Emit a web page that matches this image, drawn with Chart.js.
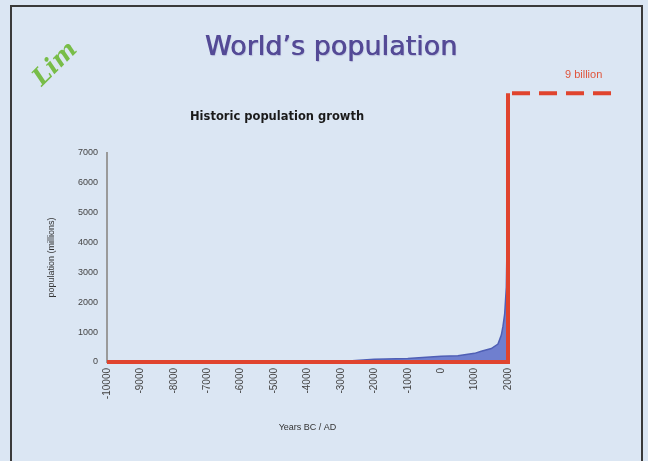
<!DOCTYPE html>
<html>
<head>
<meta charset="utf-8">
<script src="https://cdn.jsdelivr.net/npm/chart.js@4"></script>
<style>
  html, body { margin: 0; padding: 0; background: #dbe6f3; }
  #slide { position: relative; width: 648px; height: 461px; overflow: hidden; background: #dbe6f3; }
  #frame { position: absolute; left: 10px; top: 5px; width: 633px; height: 470px; border: 2px solid #3a3a3a; box-sizing: border-box; }
  #chartBox { position: absolute; left: 0; top: 0; width: 648px; height: 461px; }
  .txt { position: absolute; white-space: nowrap; }
  #title { left: 0; width: 662px; top: 30px; text-align: center; font: 27px "DejaVu Sans", sans-serif; color: #544a96; text-shadow: 0.6px 0 0 #544a96, 1px 1px 1px rgba(84,74,150,0.3); }
  #sub { left: 190px; top: 109px; font: bold 11.5px "DejaVu Sans", sans-serif; color: #1a1a1a; }
  #logo { left: 46px; top: 62px; font: italic bold 24px "DejaVu Serif", serif; color: #78bd48; transform: rotate(-45deg); transform-origin: left bottom; }
  #bill { left: 565px; top: 68px; font: 11px "Liberation Sans", sans-serif; color: #e0553c; }
</style>
</head>
<body>
<div id="slide">
  <div id="chartBox"><canvas id="c" width="648" height="461"></canvas></div>
  <div id="frame"></div>
  <div class="txt" id="title">World’s population</div>
  <div class="txt" id="logo">Lim</div>
  <div class="txt" id="sub">Historic population growth</div>
  <div class="txt" id="bill">9 billion</div>
</div>
<script>
(() => {
'use strict';

// historic population (millions) – blue area
const years = [-10000, -5000, -3000, -2000, -1000, 0, 500, 1000, 1200, 1500, 1700, 1800, 1850, 1900, 1950, 2000];
const population = [4, 5, 14, 90, 120, 190, 210, 290, 360, 450, 600, 900, 1200, 1600, 2500, 6000];

// red outline + 9 billion projection
const redYears = [-10000, 2000, 2000];
const redValues = [0, 0, 9000];
const projYears = [2120, 5270];
const projValues = [9000, 9000];

const xTickLabels = ['-10000', '-9000', '-8000', '-7000', '-6000', '-5000', '-4000', '-3000', '-2000', '-1000', '0', '1000', '2000'];
const yTicks = [0, 1000, 2000, 3000, 4000, 5000, 6000, 7000];

const pts = (xs, ys) => xs.map((x, i) => ({ x, y: ys[i] }));
const RED = '#e0442e';

new Chart(document.getElementById('c'), {
    type: 'line',
    data: {
        datasets: [
            {
                data: pts(years, population),
                borderColor: '#4f5fb5',
                backgroundColor: '#6f7fcf',
                borderWidth: 1.5,
                fill: 'origin',
                pointRadius: 0,
                tension: 0,
                clip: false,
                order: 3
            },
            {
                data: pts(redYears, redValues),
                borderColor: RED,
                borderWidth: 4,
                fill: false,
                pointRadius: 0,
                clip: false,
                order: 1
            },
            {
                data: pts(projYears, projValues),
                borderColor: RED,
                borderWidth: 4,
                borderDash: [18, 9],
                fill: false,
                pointRadius: 0,
                clip: false,
                order: 1
            }
        ]
    },
    options: {
        responsive: false,
        animation: false,
        devicePixelRatio: 1,
        layout: { padding: { left: 0, top: 153, right: 140, bottom: 0 } },
        plugins: { legend: { display: false }, tooltip: { enabled: false }, title: { display: false } },
        scales: {
            x: {
                type: 'linear',
                min: -10000,
                max: 2000,
                grid: { display: false, drawTicks: false },
                border: { display: true, color: '#9a9a9a', width: 1 },
                afterFit: s => { s.height = 99; },
                afterBuildTicks: s => { s.ticks = xTickLabels.map(v => ({ value: Number(v) })); },
                ticks: {
                    minRotation: 90, maxRotation: 90, padding: 6,
                    color: '#444', font: { family: 'Liberation Sans', size: 10 },
                    callback: (v, i) => xTickLabels[i]
                },
                title: {
                    display: true, text: 'Years BC / AD', color: '#333',
                    font: { family: 'Liberation Sans', size: 9 },
                    padding: { top: 0, bottom: 28 }
                }
            },
            y: {
                min: 0,
                max: 7000,
                grid: { display: false, drawTicks: false },
                border: { display: true, color: '#9a9a9a', width: 2 },
                afterFit: s => { s.width = 107; },
                afterBuildTicks: s => { s.ticks = yTicks.map(v => ({ value: v })); },
                ticks: {
                    padding: 9, color: '#444',
                    font: { family: 'Liberation Sans', size: 9 },
                    callback: v => String(v)
                },
                title: {
                    display: true, text: 'population (millions)', color: '#333',
                    font: { family: 'Liberation Sans', size: 9 },
                    padding: { top: 46, bottom: 0 }
                }
            }
        }
    }
});
})();
</script>
</body>
</html>
